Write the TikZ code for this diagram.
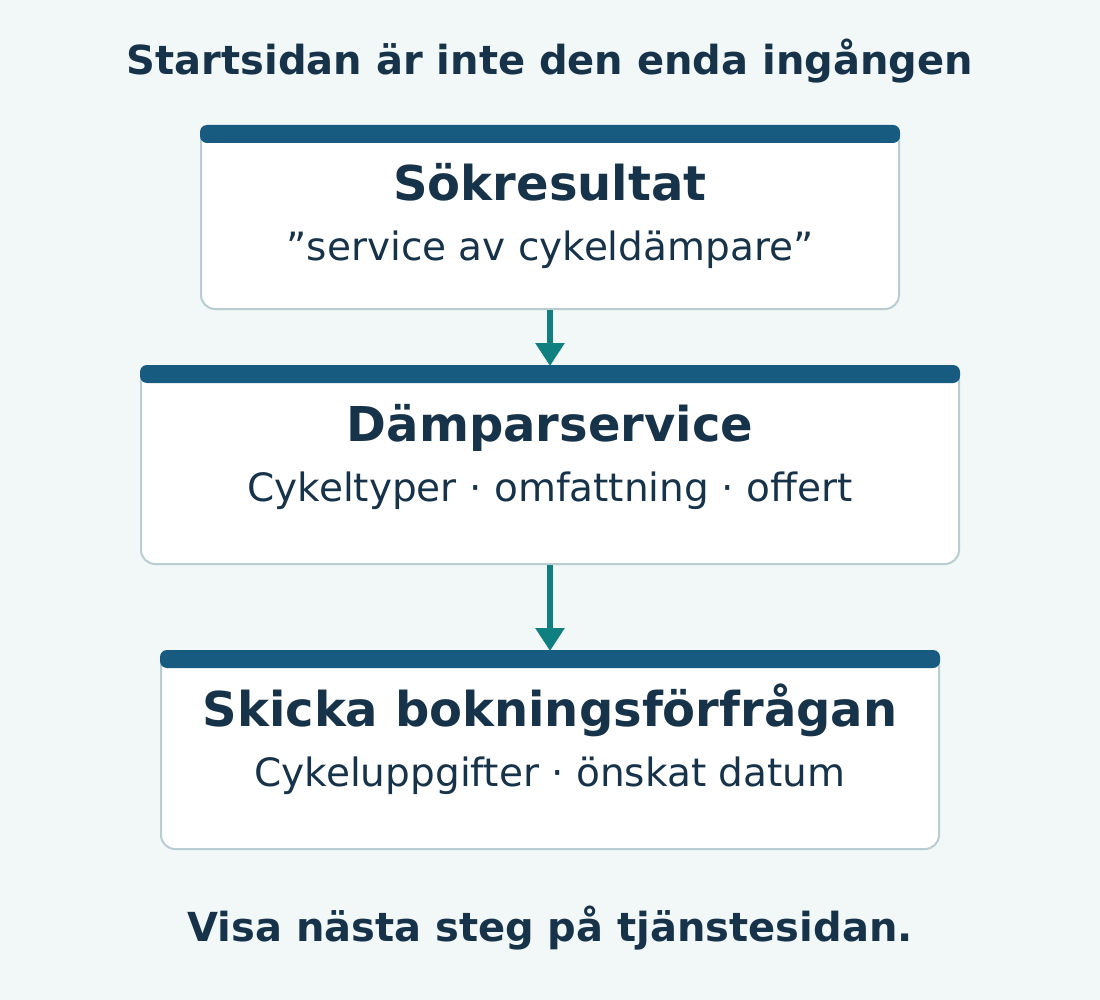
\documentclass[tikz,border=0pt]{standalone}
\usepackage{fontspec}
\setmainfont{DejaVu Sans}
\usetikzlibrary{arrows.meta}
\definecolor{bg}{HTML}{F2F7F8}
\definecolor{bar}{HTML}{175C80}
\definecolor{ink}{HTML}{17334A}
\definecolor{edge}{HTML}{B8CDD2}
\definecolor{teal}{HTML}{0F7F7F}
\tikzset{
  card/.style={draw=edge, line width=2pt, fill=white, rounded corners=14pt},
  cardbar/.style={fill=bar, rounded corners=7pt},
  head/.style={anchor=base, text=ink, font=\fontsize{48}{54}\selectfont\bfseries, inner sep=0pt},
  sub/.style={anchor=base, text=ink, font=\fontsize{39}{45}\selectfont, inner sep=0pt},
  caption/.style={anchor=base, text=ink, font=\fontsize{40}{46}\selectfont\bfseries, inner sep=0pt},
  flow/.style={draw=teal, line width=6pt, -{Triangle[length=23pt,width=28pt]}, shorten >=0pt}
}
\begin{document}
\begin{tikzpicture}[x=1pt,y=-1pt]
\fill[bg] (0,0) rectangle (1100,1000);
\useasboundingbox (0,0) rectangle (1100,1000);
\node[caption] (title) at (550,75) {Startsidan är inte den enda ingången};
% box 1
\draw[card] (201,127) rectangle (899,309);
\fill[cardbar] (200,125) rectangle (900,143);
\coordinate (b1bot) at (550,310);
\node[head] (h1) at (550,201) {Sökresultat};
\node[sub] (s1) at (550,261) {”service av cykeldämpare”};
% box 2
\draw[card] (141,367) rectangle (959,564);
\fill[cardbar] (140,365) rectangle (960,383);
\coordinate (b2top) at (550,366);
\coordinate (b2bot) at (550,565);
\node[head] (h2) at (550,441) {Dämparservice};
\node[sub] (s2) at (550,501) {Cykeltyper · omfattning · offert};
% box 3
\draw[card] (161,652) rectangle (939,849);
\fill[cardbar] (160,650) rectangle (940,668);
\coordinate (b3top) at (550,651);
\node[head] (h3) at (550,726) {Skicka bokningsförfrågan};
\node[sub] (s3) at (550,786) {Cykeluppgifter · önskat datum};
% arrows
\draw[flow] (b1bot) -- (b2top);
\draw[flow] (b2bot) -- (b3top);
\node[caption] (foot) at (550,941) {Visa nästa steg på tjänstesidan.};
\end{tikzpicture}
\end{document}
